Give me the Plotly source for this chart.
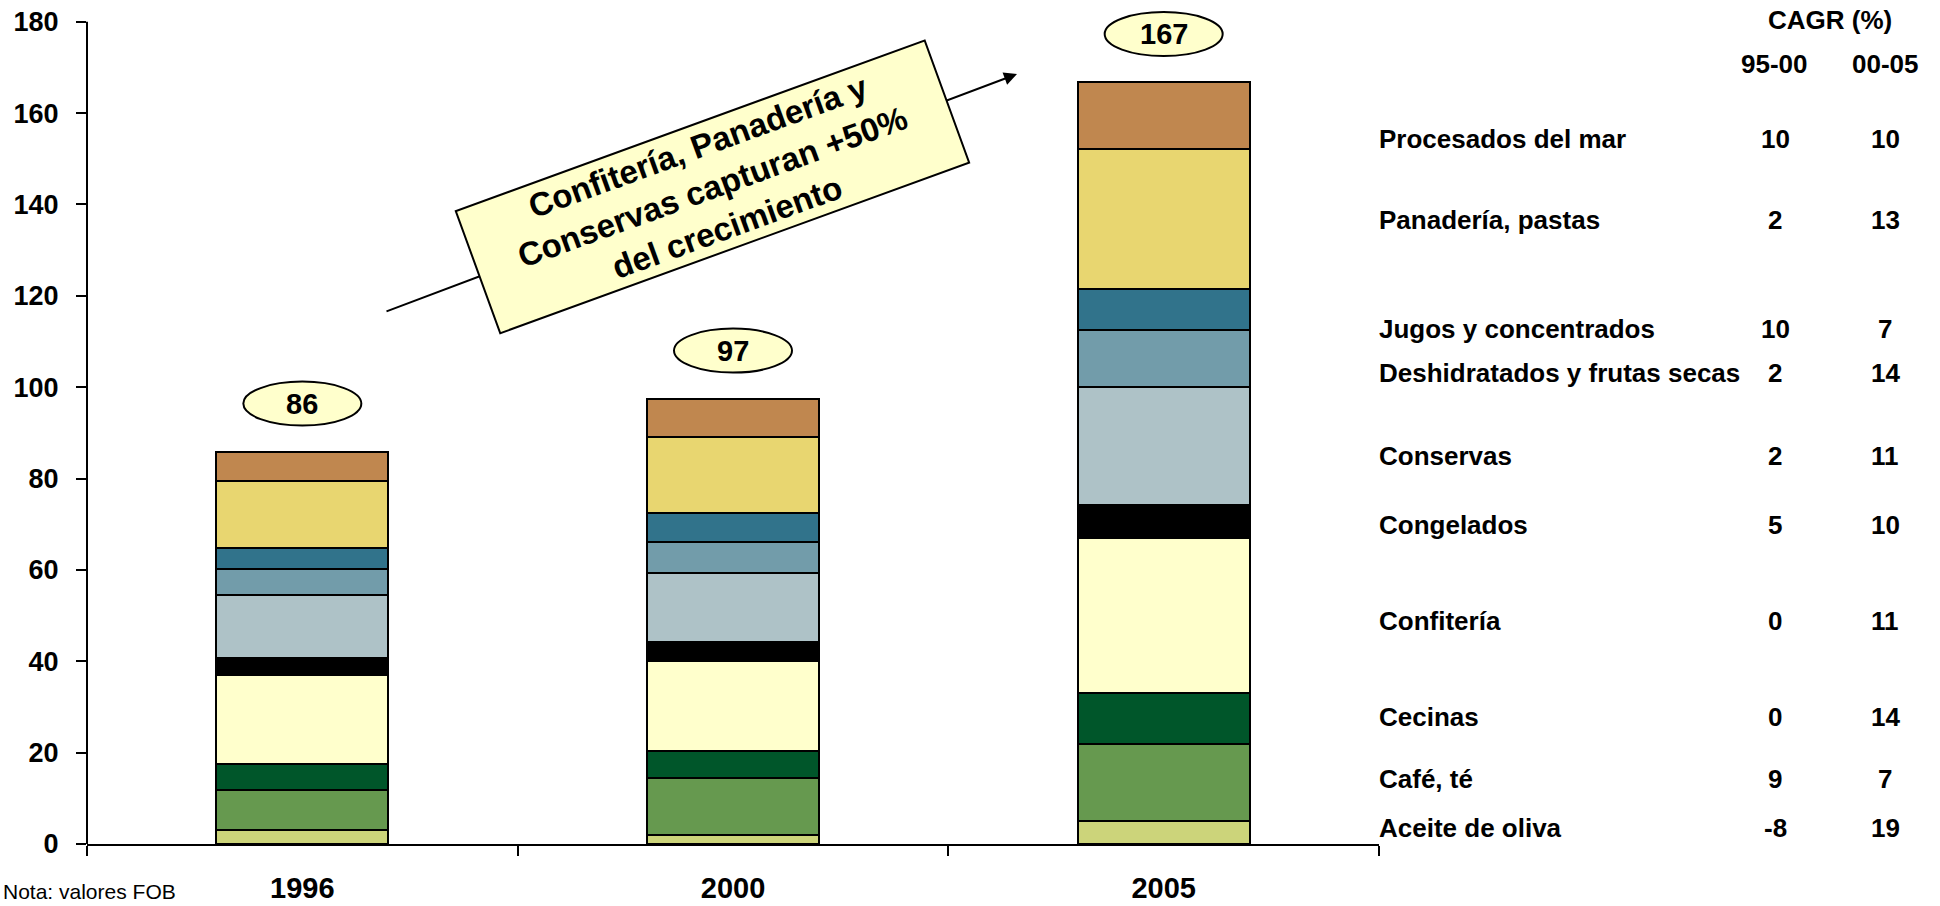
import plotly.graph_objects as go

# ---- data (US$ millions FOB), stacked bottom-up ----
years = ["1996", "2000", "2005"]
categories = [
    "Aceite de oliva", "Café, té", "Cecinas", "Confitería", "Congelados",
    "Conservas", "Deshidratados y frutas secas", "Jugos y concentrados",
    "Panadería, pastas", "Procesados del mar",
]
aceite_oliva = [3.0, 2.0, 5.1]
cafe_te = [8.8, 12.5, 16.9]
cecinas = [5.8, 5.8, 11.0]
confiteria = [19.4, 19.7, 34.0]
congelados = [3.7, 4.3, 7.2]
conservas = [13.8, 15.1, 25.9]
deshidratados = [5.7, 6.8, 12.4]
jugos = [4.6, 6.2, 8.9]
panaderia = [14.7, 16.7, 30.7]
procesados_mar = [6.3, 8.3, 14.6]

cagr_95_00 = [-8, 9, 0, 0, 5, 2, 2, 10, 2, 10]
cagr_00_05 = [19, 7, 14, 11, 10, 11, 14, 7, 13, 10]

series = [aceite_oliva, cafe_te, cecinas, confiteria, congelados,
          conservas, deshidratados, jugos, panaderia, procesados_mar]
colors = ["#CCD47A", "#66994F", "#00562A", "#FFFFCC", "#000000",
          "#AEC2C7", "#729CAA", "#31738B", "#E8D670", "#C0874F"]

# vertical placement of the side table rows (in axis units)
row_pos = [3.5, 14.3, 27.8, 48.8, 69.9, 85.0, 103.1, 112.8, 136.5, 154.3]

FONT = "Liberation Sans, Arial, sans-serif"
W, H = 1940, 906
ML, MR, MT, MB = 87, 561, 8, 62
PW, PH = W - ML - MR, H - MT - MB


def px_x(p):
    return (p - ML) / PW


def px_y(p):
    return (H - MB - p) / PH


fig = go.Figure()
for name, vals, col in zip(categories, series, colors):
    fig.add_trace(go.Bar(
        x=years, y=vals, name=name, width=0.4,
        marker=dict(color=col, line=dict(color="black", width=2)),
        showlegend=False,
    ))

totals = [sum(v[i] for v in series) for i in range(len(years))]

shapes = []
annotations = []

# y axis line up to the 180 tick
shapes.append(dict(type="line", xref="paper", yref="y", x0=0, x1=0, y0=0, y1=180,
                   line=dict(color="black", width=2)))

# total bubbles above each bar
for i, t in enumerate(totals):
    yc = t + 10.6
    shapes.append(dict(type="circle", xref="x", yref="y",
                       xsizemode="pixel", ysizemode="pixel",
                       xanchor=i, yanchor=yc, x0=-59, x1=59, y0=-22, y1=22,
                       fillcolor="#FFFFCC", line=dict(color="black", width=2)))
    annotations.append(dict(x=i, y=yc, xref="x", yref="y", text=f"{round(t)}",
                            showarrow=False, xanchor="center", yanchor="middle",
                            font=dict(family=FONT, size=29, color="black", weight="bold")))

# growth arrow and callout
annotations.append(dict(x=px_x(1017), y=px_y(74), xref="paper", yref="paper",
                        ax=385 - 1017, ay=312 - 74, axref="pixel", ayref="pixel",
                        text="", showarrow=True, arrowhead=2, arrowsize=1.3,
                        arrowwidth=2, arrowcolor="black", standoff=0))
annotations.append(dict(x=px_x(712), y=px_y(187), xref="paper", yref="paper",
                        text="Confitería, Panadería y<br>Conservas capturan +50%<br>del crecimiento",
                        showarrow=False, xanchor="center", yanchor="middle",
                        textangle=-20, width=497, height=128, align="center",
                        bgcolor="#FFFFCC", bordercolor="black", borderwidth=2, borderpad=0,
                        font=dict(family=FONT, size=33, color="black", weight="bold")))

# side table: category names and CAGR columns
lab_font = dict(family=FONT, size=26, color="black", weight="bold")
for name, pos, g1, g2 in zip(categories, row_pos, cagr_95_00, cagr_00_05):
    annotations.append(dict(x=px_x(1377), y=pos, xref="paper", yref="y", text=name,
                            showarrow=False, xanchor="left", yanchor="middle", font=lab_font))
    annotations.append(dict(x=px_x(1775), y=pos, xref="paper", yref="y", text=str(g1),
                            showarrow=False, xanchor="center", yanchor="middle", font=lab_font))
    annotations.append(dict(x=px_x(1885), y=pos, xref="paper", yref="y", text=str(g2),
                            showarrow=False, xanchor="center", yanchor="middle", font=lab_font))

annotations.append(dict(x=px_x(1830), y=px_y(20), xref="paper", yref="paper", text="CAGR (%)",
                        showarrow=False, xanchor="center", yanchor="middle", font=lab_font))
annotations.append(dict(x=px_x(1774), y=px_y(64), xref="paper", yref="paper", text="95-00",
                        showarrow=False, xanchor="center", yanchor="middle", font=lab_font))
annotations.append(dict(x=px_x(1885), y=px_y(64), xref="paper", yref="paper", text="00-05",
                        showarrow=False, xanchor="center", yanchor="middle", font=lab_font))

# footnote
annotations.append(dict(x=px_x(1), y=px_y(905), xref="paper", yref="paper",
                        text="Nota: valores FOB", showarrow=False,
                        xanchor="left", yanchor="bottom",
                        font=dict(family=FONT, size=21, color="black")))

fig.update_layout(
    width=W, height=H, barmode="stack",
    margin=dict(l=ML, r=MR, t=MT, b=MB, pad=0, autoexpand=False),
    paper_bgcolor="white", plot_bgcolor="white",
    shapes=shapes, annotations=annotations,
    xaxis=dict(type="category", range=[-0.5, 2.5], showline=True, linecolor="black",
               linewidth=2, ticks="outside", tickson="boundaries", ticklen=10,
               tickwidth=2, tickcolor="black", showgrid=False, ticklabelstandoff=17,
               automargin=False,
               tickfont=dict(family=FONT, size=29, color="black", weight="bold")),
    yaxis=dict(range=[0, 183], tickvals=list(range(0, 181, 20)), showline=False,
               ticks="outside", ticklen=10, tickwidth=2, tickcolor="black",
               showgrid=False, zeroline=False, ticklabelstandoff=12, automargin=False,
               tickfont=dict(family=FONT, size=27, color="black", weight="bold")),
)

fig.write_html("out.html")
